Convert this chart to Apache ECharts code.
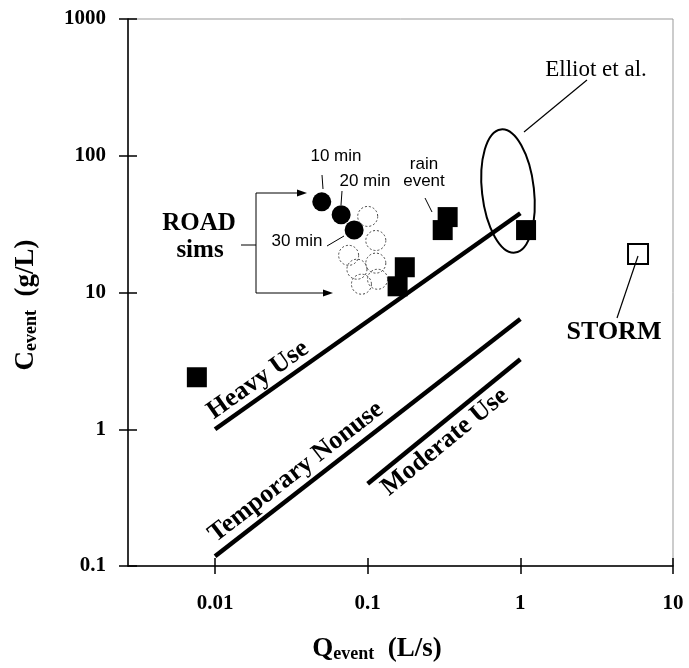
<!DOCTYPE html>
<html><head><meta charset="utf-8">
<script src="https://cdn.jsdelivr.net/npm/echarts@6/dist/echarts.min.js"></script>
<style>html,body{margin:0;padding:0;background:#fff}#c{width:689px;height:668px}</style>
</head><body><div id="c"></div>
<script>
// ---- data (Q in L/s, C in g/L) ----
const xTickValues = [0.01, 0.1, 1, 10];
const xMin = 0.00269, xMax = 10;
const yMin = 0.1, yMax = 1000;

const simTimedQ = [0.050, 0.067, 0.0815];      // 10, 20, 30 min (filled circles)
const simTimedC = [46, 37, 28.6];
const simOtherQ = [0.100, 0.113, 0.075, 0.113, 0.085, 0.091, 0.116]; // open dotted circles
const simOtherC = [36, 24, 18.7, 16.4, 14.8, 11.5, 12.5];
const siteQ = [0.0076, 0.157, 0.175, 0.31, 0.334, 1.09];   // filled squares
const siteC = [2.4, 11.1, 15.3, 28.6, 35.6, 28.6];
const stormQ = [5.9];
const stormC = [19.1];
const heavyQ = [0.01, 1],  heavyC = [1, 38];
const tempQ  = [0.01, 1],  tempC  = [0.118, 6.4];
const modQ   = [0.1, 1],   modC   = [0.40, 3.25];

const zip = (a, b) => a.map((v, i) => [v, b[i]]);

const SERIF = "'Liberation Serif', 'Times New Roman', serif";
const SANS = "'Liberation Sans', Arial, sans-serif";

const chart = echarts.init(document.getElementById('c'), null, {renderer: 'canvas'});

const tickLabelStyle = {fontFamily: SERIF, fontWeight: 'bold', fontSize: 21, color: '#000'};

function lineSeries(q, c) {
  return {type: 'line', data: zip(q, c), symbol: 'none', silent: true,
    lineStyle: {color: '#000', width: 4.5, opacity: 1}, z: 3};
}

function txt(x, y, text, font, extra) {
  return Object.assign({type: 'text', x: x, y: y, z: 100,
    style: Object.assign({text: text, font: font, fill: '#000', align: 'center', verticalAlign: 'middle'}, extra || {})});
}
function seg(x1, y1, x2, y2, w) {
  return {type: 'line', z: 100, shape: {x1, y1, x2, y2}, style: {stroke: '#000', lineWidth: w || 1}};
}
function arrowHead(x, y) {
  return {type: 'polygon', z: 100, shape: {points: [[x, y], [x - 10, y - 3.5], [x - 10, y + 3.5]]}, style: {fill: '#000'}};
}
const deg = Math.PI / 180;
const titleRich = {
  b: {fontFamily: SERIF, fontWeight: 'bold', fontSize: 27, lineHeight: 30, verticalAlign: 'bottom'},
  s: {fontFamily: SERIF, fontWeight: 'bold', fontSize: 18, lineHeight: 16, verticalAlign: 'bottom'}
};

const option = {
  animation: false,
  backgroundColor: '#fff',
  grid: {left: 128, right: 16, top: 19, bottom: 102, show: true, borderColor: '#999', borderWidth: 1},
  xAxis: [
    {type: 'log', logBase: 10, min: xMin, max: xMax,
     axisLine: {show: true, lineStyle: {color: '#000', width: 1.5}},
     axisTick: {show: true, length: 8, lineStyle: {color: '#000', width: 1.5}, customValues: xTickValues},
     axisLabel: Object.assign({margin: 27, customValues: xTickValues, formatter: v => String(v)}, tickLabelStyle),
     splitLine: {show: false}, minorTick: {show: false}},
    {type: 'log', logBase: 10, min: xMin, max: xMax, position: 'bottom', offset: 0,
     axisLine: {show: false},
     axisTick: {show: true, inside: true, length: 8, lineStyle: {color: '#000', width: 1.5}, customValues: xTickValues},
     axisLabel: {show: false}, splitLine: {show: false}}
  ],
  yAxis: [
    {type: 'log', logBase: 10, min: yMin, max: yMax,
     axisLine: {show: true, lineStyle: {color: '#000', width: 1.5}},
     axisTick: {show: true, length: 9, lineStyle: {color: '#000', width: 1.5}},
     axisLabel: Object.assign({margin: 22, formatter: v => String(v)}, tickLabelStyle),
     splitLine: {show: false}},
    {type: 'log', logBase: 10, min: yMin, max: yMax, position: 'left', offset: 0,
     axisLine: {show: false},
     axisTick: {show: true, inside: true, length: 9, lineStyle: {color: '#000', width: 1.5}},
     axisLabel: {show: false}, splitLine: {show: false}}
  ],
  series: [
    lineSeries(heavyQ, heavyC),
    lineSeries(tempQ, tempC),
    lineSeries(modQ, modC),
    {type: 'scatter', data: zip(simOtherQ, simOtherC), symbol: 'circle', symbolSize: 20, z: 4,
     itemStyle: {color: 'rgba(255,255,255,0)', borderColor: '#444', borderWidth: 1, borderType: [2, 2], opacity: 1}},
    {type: 'scatter', data: zip(simTimedQ, simTimedC), symbol: 'circle', symbolSize: 19, z: 5,
     itemStyle: {color: '#000', opacity: 1}},
    {type: 'scatter', data: zip(siteQ, siteC), symbol: 'rect', symbolSize: 20, z: 6,
     itemStyle: {color: '#000', opacity: 1}},
    {type: 'scatter', data: zip(stormQ, stormC), symbol: 'rect', symbolSize: 20, z: 6,
     itemStyle: {color: '#fff', borderColor: '#000', borderWidth: 2, opacity: 1}}
  ],
  graphic: [
    // axis titles
    txt(377, 648, '{b|Q}{s|event}{b|  (L/s)}', '', {rich: titleRich}),
    Object.assign(txt(25, 305, '{b|C}{s|event}{b|  (g/L)}', '', {rich: titleRich}), {rotation: 90 * deg}),
    // trend-line labels
    Object.assign(txt(258, 380, 'Heavy Use', 'bold 26px ' + SERIF), {rotation: 35.2 * deg}),
    Object.assign(txt(296, 472, 'Temporary Nonuse', 'bold 26px ' + SERIF), {rotation: 37.8 * deg}),
    Object.assign(txt(445, 442, 'Moderate Use', 'bold 26px ' + SERIF), {rotation: 39.2 * deg}),
    // ROAD sims
    txt(199, 224, 'ROAD', 'bold 25px ' + SERIF),
    txt(200, 251, 'sims', 'bold 25px ' + SERIF),
    seg(241, 245, 256, 245), seg(256, 193, 256, 293),
    seg(256, 193, 300, 193), arrowHead(307, 193),
    seg(256, 293, 326, 293), arrowHead(333, 293),
    // time labels
    txt(336, 156, '10 min', '17px ' + SANS), seg(322, 175, 323, 189),
    txt(365, 181, '20 min', '17px ' + SANS), seg(342, 191, 341, 205),
    txt(297, 241, '30 min', '17px ' + SANS), seg(327, 246, 344, 236),
    // rain event
    txt(424, 173, 'rain\nevent', '17px ' + SANS, {lineHeight: 17}), seg(425, 198, 432, 212),
    // Elliot et al.
    txt(596, 70, 'Elliot et al.', '23px ' + SERIF), seg(587, 80, 524, 132, 1.2),
    {type: 'ellipse', z: 100, x: 508, y: 191, rotation: 6.5 * deg,
     shape: {cx: 0, cy: 0, rx: 26, ry: 62}, style: {fill: 'none', stroke: '#000', lineWidth: 2}},
    // STORM
    txt(614, 332, 'STORM', 'bold 26px ' + SERIF), seg(638, 256, 617, 318, 1.2)
  ]
};
chart.setOption(option);
</script></body></html>
